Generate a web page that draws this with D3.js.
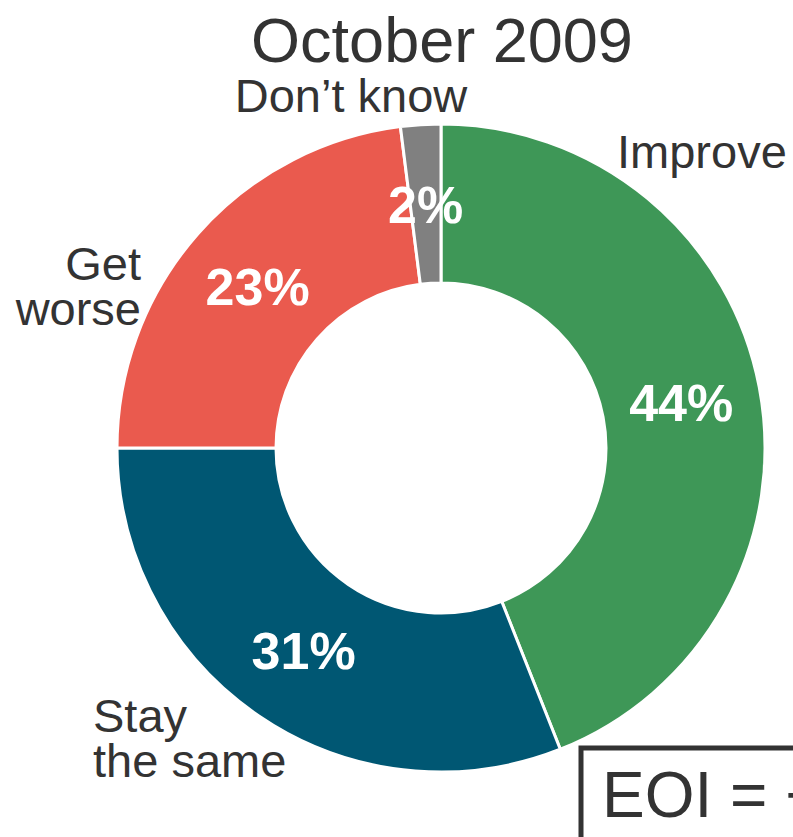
<!DOCTYPE html>
<html><head><meta charset="utf-8">
<script src="https://cdn.jsdelivr.net/npm/d3@7"></script>
<style>body{margin:0;background:#fff;} svg{display:block;}</style>
</head><body>
<svg id="c" width="793" height="837"></svg>
<script>
const title = "October 2009";
const categories = ["Improve", "Stay the same", "Get worse", "Don’t know"];
const values = [44, 31, 23, 2];
const colors = ["#3E9757", "#005773", "#EA5A4E", "#808080"];
const labelLines = [["Improve"], ["Stay", "the same"], ["Get", "worse"], ["Don’t know"]];
const eoiText = "EOI = +21";

const svg = d3.select("#c");
const cx = 441, cy = 448, rOuter = 324, rInner = 165;
const font = "'Liberation Sans', Arial, Helvetica, sans-serif";
const data = categories.map((c, i) => ({cat: c, value: values[i], color: colors[i], lines: labelLines[i]}));

const pie = d3.pie().value(d => d.value).sort(null);
const arc = d3.arc().innerRadius(rInner).outerRadius(rOuter);
const labelArc = d3.arc().innerRadius((rInner + rOuter) / 2).outerRadius((rInner + rOuter) / 2);
const arcs = pie(data);

const g = svg.append("g").attr("transform", `translate(${cx},${cy})`);
g.selectAll("path").data(arcs).join("path")
  .attr("d", arc).attr("fill", d => d.data.color)
  .attr("stroke", "#fff").attr("stroke-width", 3).attr("stroke-linejoin", "miter");

g.selectAll("text.pct").data(arcs).join("text").attr("class", "pct")
  .attr("transform", d => `translate(${labelArc.centroid(d)})`)
  .attr("text-anchor", "middle").attr("dy", "0.36em")
  .attr("fill", "#fff").attr("font-family", font).attr("font-weight", "bold")
  .attr("font-size", 52).text(d => d.data.value + "%");

svg.append("text").attr("x", 442).attr("y", 62).attr("text-anchor", "middle")
  .attr("font-family", font).attr("font-size", 63).attr("fill", "#333").text(title);

// category labels (placement outside ring)
const labelPos = [
  {x: 617, y: 168, anchor: "start"},
  {x: 93, y: 732, anchor: "start"},
  {x: 141, y: 280, anchor: "end"},
  {x: 351, y: 112, anchor: "middle"}
];
data.forEach((d, i) => {
  const p = labelPos[i];
  const t = svg.append("text").attr("x", p.x).attr("y", p.y).attr("text-anchor", p.anchor)
    .attr("font-family", font).attr("font-size", 47).attr("fill", "#333");
  d.lines.forEach((ln, j) => t.append("tspan").attr("x", p.x).attr("dy", j === 0 ? 0 : 45).text(ln));
});

// EOI box (clipped by page edge)
svg.append("rect").attr("x", 581).attr("y", 748).attr("width", 260).attr("height", 140)
  .attr("fill", "#fff").attr("stroke", "#333").attr("stroke-width", 5);
svg.append("text").attr("x", 602).attr("y", 817).attr("font-family", font)
  .attr("font-size", 64).attr("fill", "#333").text(eoiText);
</script>
</body></html>
